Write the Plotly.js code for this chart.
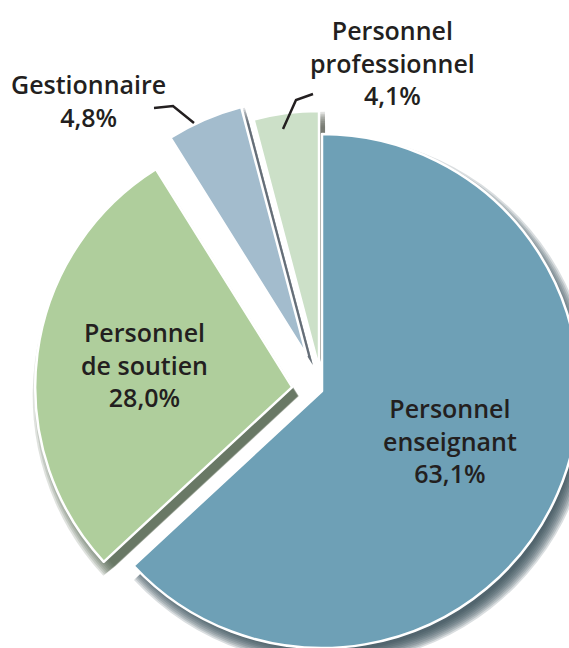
<!DOCTYPE html>
<html>
<head>
<meta charset="utf-8">
<script src="https://cdn.plot.ly/plotly-3.0.1.min.js"></script>
<style>
  html, body { margin: 0; padding: 0; background: #ffffff; overflow: hidden; width: 569px; height: 648px; }
  #chart { position: absolute; left: 0; top: 0; width: 640px; height: 720px; }
</style>
</head>
<body>
<div id="chart"></div>
<script>
// ---- Data ----
const labels = ["Personnel<br>enseignant", "Personnel<br>de soutien", "Gestionnaire", "Personnel<br>professionnel"];
const values = [63.1, 28.0, 4.8, 4.1];
const colors = ["#6ea0b6", "#afce9c", "#a3bccd", "#cce0c8"];
const pulls  = [0, 0.117, 0.15, 0.09];

// ---- Layout helpers (pixel -> paper) ----
const W = 640, H = 720;
const px = x => x / W;
const py = y => 1 - y / H;
const CX = 322, CY = 391, R = 257;           // pie centre & radius in pixels
const maxPull = Math.max(...pulls);

function domainFor(cx, cy, r) {
  const half = r * (1 + maxPull);
  return { x: [(cx - half) / W, (cx + half) / W], y: [1 - (cy + half) / H, 1 - (cy - half) / H] };
}

// label block centres (pixels) and leader lines
const labelPos = [[450, 440], [144, 364], [88, 101], [392, 62]];
const leaders = [
  null, null,
  [[154, 108], [173, 106], [194, 123]],
  [[313, 94], [296, 100], [283, 129]]
];

const fmt = v => v.toFixed(1).replace('.', ',') + '%';
const darken = (hex, k, a) => {
  const n = parseInt(hex.slice(1), 16);
  const r = Math.round(((n >> 16) & 255) * k), g = Math.round(((n >> 8) & 255) * k), b = Math.round((n & 255) * k);
  return 'rgba(' + r + ',' + g + ',' + b + ',' + a + ')';
};

function pieTrace(cols, lineCol, lineW, dom) {
  return {
    type: 'pie',
    labels: labels,
    values: values,
    sort: false,
    direction: 'clockwise',
    rotation: 0,
    pull: pulls,
    textinfo: 'none',
    hoverinfo: 'none',
    showlegend: false,
    marker: { colors: cols, line: { color: lineCol, width: lineW } },
    domain: dom
  };
}

// soft drop shadow: stacked translucent copies of the same pie, offset down-right
const shadowTraces = [];
const nLayers = 9;
for (let j = nLayers - 1; j >= 0; j--) {
  const grow = j * 1.7 - 6;
  const cols = colors.map(c => darken(c, 0.45, 0.18));
  shadowTraces.push(pieTrace(cols, 'rgba(0,0,0,0)', 0, domainFor(CX + 6, CY + 9, R + grow)));
}

const mainTrace = pieTrace(colors, '#ffffff', 2.5, domainFor(CX, CY, R));

const annotations = labels.map((l, i) => ({
  xref: 'paper', yref: 'paper',
  x: px(labelPos[i][0]), y: py(labelPos[i][1]),
  xanchor: 'center', yanchor: 'middle',
  text: l + '<br>' + fmt(values[i]),
  showarrow: false,
  align: 'center',
  font: { family: 'Open Sans, sans-serif', size: 25, color: '#231f20', weight: 600 }
}));

const shapes = leaders.filter(Boolean).map(pts => ({
  type: 'path', xref: 'paper', yref: 'paper',
  path: 'M ' + pts.map(p => px(p[0]) + ',' + py(p[1])).join(' L '),
  line: { color: '#231f20', width: 2.5 }
}));

const layout = {
  width: W, height: H,
  margin: { l: 0, r: 0, t: 0, b: 0 },
  paper_bgcolor: '#ffffff',
  annotations: annotations,
  shapes: shapes
};

Plotly.newPlot('chart', shadowTraces.concat([mainTrace]), layout, { staticPlot: true });
</script>
</body>
</html>
